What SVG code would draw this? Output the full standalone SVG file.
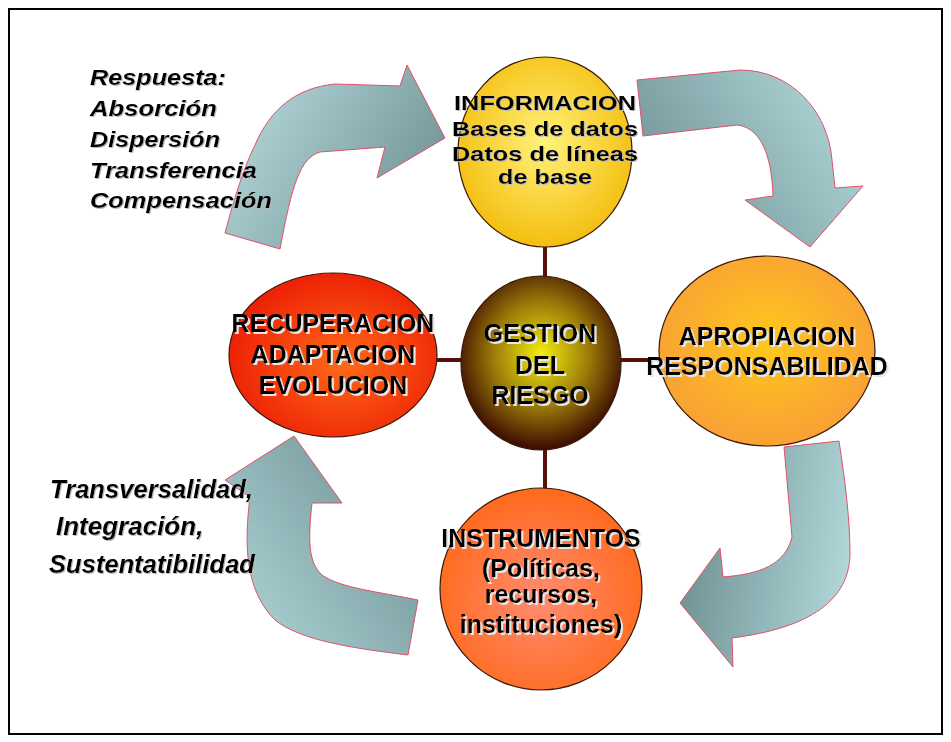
<svg xmlns="http://www.w3.org/2000/svg" width="951" height="742" viewBox="0 0 951 742">
<defs>
<style>
.arrow{stroke:#e0506a;stroke-width:1;stroke-linejoin:round}
.node{stroke:#3a1a0a;stroke-width:1.2}
.lbl{font-family:"Liberation Sans",Arial,sans-serif;font-weight:bold;fill:#000;text-anchor:middle}
.side{font-family:"Liberation Sans",Arial,sans-serif;font-weight:bold;font-style:italic;fill:#000}
.conn{stroke:#5a0f0a;stroke-width:4;fill:none}
</style>
<filter id="sh" x="-10%" y="-20%" width="130%" height="150%">
<feOffset in="SourceAlpha" dx="1.5" dy="1.5" result="o"/>
<feFlood flood-color="#e6e6e6"/>
<feComposite in2="o" operator="in" result="s"/>
<feMerge><feMergeNode in="s"/><feMergeNode in="SourceGraphic"/></feMerge>
</filter>
<filter id="sh2" x="-10%" y="-20%" width="130%" height="150%">
<feOffset in="SourceAlpha" dx="1.2" dy="1.2" result="o"/>
<feFlood flood-color="#bbbbbb"/>
<feComposite in2="o" operator="in" result="s"/>
<feMerge><feMergeNode in="s"/><feMergeNode in="SourceGraphic"/></feMerge>
</filter>
<linearGradient id="a1" x1="0" y1="0.3" x2="1" y2="0.8"><stop offset="0" stop-color="#b4d8da"/><stop offset="1" stop-color="#6c8e91"/></linearGradient>
<linearGradient id="a2" x1="1" y1="0.3" x2="0" y2="0.8"><stop offset="0" stop-color="#b0d6d8"/><stop offset="1" stop-color="#6c8e91"/></linearGradient>
<linearGradient id="a3" x1="1" y1="0.5" x2="0" y2="0.3"><stop offset="0" stop-color="#b0d6d8"/><stop offset="1" stop-color="#6c8e91"/></linearGradient>
<linearGradient id="a4" x1="0" y1="0.9" x2="1" y2="0.1"><stop offset="0" stop-color="#b0d6d8"/><stop offset="1" stop-color="#6c8e91"/></linearGradient>
<radialGradient id="gInfo" cx="0.5" cy="0.45" r="0.55"><stop offset="0" stop-color="#fff37a"/><stop offset="1" stop-color="#f4be10"/></radialGradient>
<radialGradient id="gGest" cx="0.5" cy="0.45" r="0.55"><stop offset="0" stop-color="#f4ee10"/><stop offset="0.55" stop-color="#9a7a08"/><stop offset="1" stop-color="#3a0a02"/></radialGradient>
<radialGradient id="gRec" cx="0.55" cy="0.55" r="0.6"><stop offset="0" stop-color="#ff6a18"/><stop offset="1" stop-color="#ec1c04"/></radialGradient>
<radialGradient id="gApr" cx="0.5" cy="0.45" r="0.55"><stop offset="0" stop-color="#ffc81c"/><stop offset="1" stop-color="#f8a036"/></radialGradient>
<radialGradient id="gIns" cx="0.5" cy="0.55" r="0.55"><stop offset="0" stop-color="#ff8c72"/><stop offset="1" stop-color="#ff6a1c"/></radialGradient>
</defs>
<rect x="0" y="0" width="951" height="742" fill="#fff"/>
<rect x="9" y="9" width="933" height="725" fill="none" stroke="#000" stroke-width="2"/>

<g id="arrows">
<path class="arrow" fill="url(#a1)" d="M225,233 C235,195 245,165 255,145 C270,110 295,88 335,84 L400,86 L407,65 L445,138 L377,178 L385,147 L320,152 C300,158 292,185 280,249 Z"/>
<path class="arrow" fill="url(#a2)" d="M637,80 L740,70 C790,70 828,110 832,160 L835,188 L863,186 L810,247 L745,200 L773,196 C772,165 765,128 737,125 L643,136 Z"/>
<path class="arrow" fill="url(#a3)" d="M784,447 L839,441 C845,480 850,520 850,553 C850,600 810,628 732,638 L733,667 L680,603 L720,548 L723,577 C760,574 785,565 792,537 Z"/>
<path class="arrow" fill="url(#a4)" d="M408,655 L418,600 C380,592 340,588 322,575 C308,562 308,540 312,503 L342,503 L294,436 L225,480 L250,497 C244,545 245,590 275,620 C300,640 350,648 408,655 Z"/>
</g>

<g id="connectors">
<line class="conn" x1="545" y1="245" x2="545" y2="278"/>
<line class="conn" x1="436" y1="360" x2="462" y2="360"/>
<line class="conn" x1="620" y1="360" x2="660" y2="360"/>
<line class="conn" x1="545" y1="448" x2="545" y2="490"/>
</g>

<g id="informacion">
<ellipse class="node" cx="545" cy="152" rx="87" ry="95" fill="url(#gInfo)"/>
<g class="lbl" font-size="21" filter="url(#sh2)">
<text x="545" y="110" textLength="182" lengthAdjust="spacingAndGlyphs">INFORMACION</text>
<text x="545" y="136" textLength="186" lengthAdjust="spacingAndGlyphs">Bases de datos</text>
<text x="545" y="161" textLength="186" lengthAdjust="spacingAndGlyphs">Datos de líneas</text>
<text x="545" y="184" textLength="94" lengthAdjust="spacingAndGlyphs">de base</text>
</g>
</g>

<g id="gestion">
<ellipse class="node" cx="541" cy="363" rx="80" ry="87" fill="url(#gGest)"/>
<g class="lbl" font-size="25" filter="url(#sh)">
<text x="540" y="342">GESTION</text>
<text x="540" y="374">DEL</text>
<text x="540" y="404">RIESGO</text>
</g>
</g>

<g id="recuperacion">
<ellipse class="node" cx="333" cy="355" rx="104" ry="82" fill="url(#gRec)"/>
<g class="lbl" font-size="25" filter="url(#sh)">
<text x="333" y="332">RECUPERACION</text>
<text x="333" y="363">ADAPTACION</text>
<text x="333" y="394">EVOLUCION</text>
</g>
</g>

<g id="apropiacion">
<ellipse class="node" cx="767" cy="351" rx="108" ry="95" fill="url(#gApr)"/>
<g class="lbl" font-size="25" filter="url(#sh)">
<text x="767" y="345">APROPIACION</text>
<text x="767" y="375">RESPONSABILIDAD</text>
</g>
</g>

<g id="instrumentos">
<ellipse class="node" cx="541" cy="589" rx="101" ry="101" fill="url(#gIns)"/>
<g class="lbl" font-size="25" filter="url(#sh)">
<text x="541" y="547">INSTRUMENTOS</text>
<text x="541" y="577">(Políticas,</text>
<text x="541" y="603">recursos,</text>
<text x="541" y="633">instituciones)</text>
</g>
</g>

<g id="respuesta" class="side" font-size="22" filter="url(#sh2)">
<text x="90" y="85" textLength="136" lengthAdjust="spacingAndGlyphs">Respuesta:</text>
<text x="90" y="116" textLength="127" lengthAdjust="spacingAndGlyphs">Absorción</text>
<text x="90" y="147" textLength="130" lengthAdjust="spacingAndGlyphs">Dispersión</text>
<text x="90" y="178" textLength="167" lengthAdjust="spacingAndGlyphs">Transferencia</text>
<text x="90" y="208" textLength="182" lengthAdjust="spacingAndGlyphs">Compensación</text>
</g>

<g id="transversalidad" class="side" font-size="26" filter="url(#sh2)">
<text x="50" y="498" textLength="203" lengthAdjust="spacingAndGlyphs">Transversalidad,</text>
<text x="56" y="535">Integración,</text>
<text x="49" y="573" textLength="206" lengthAdjust="spacingAndGlyphs">Sustentatibilidad</text>
</g>
</svg>
